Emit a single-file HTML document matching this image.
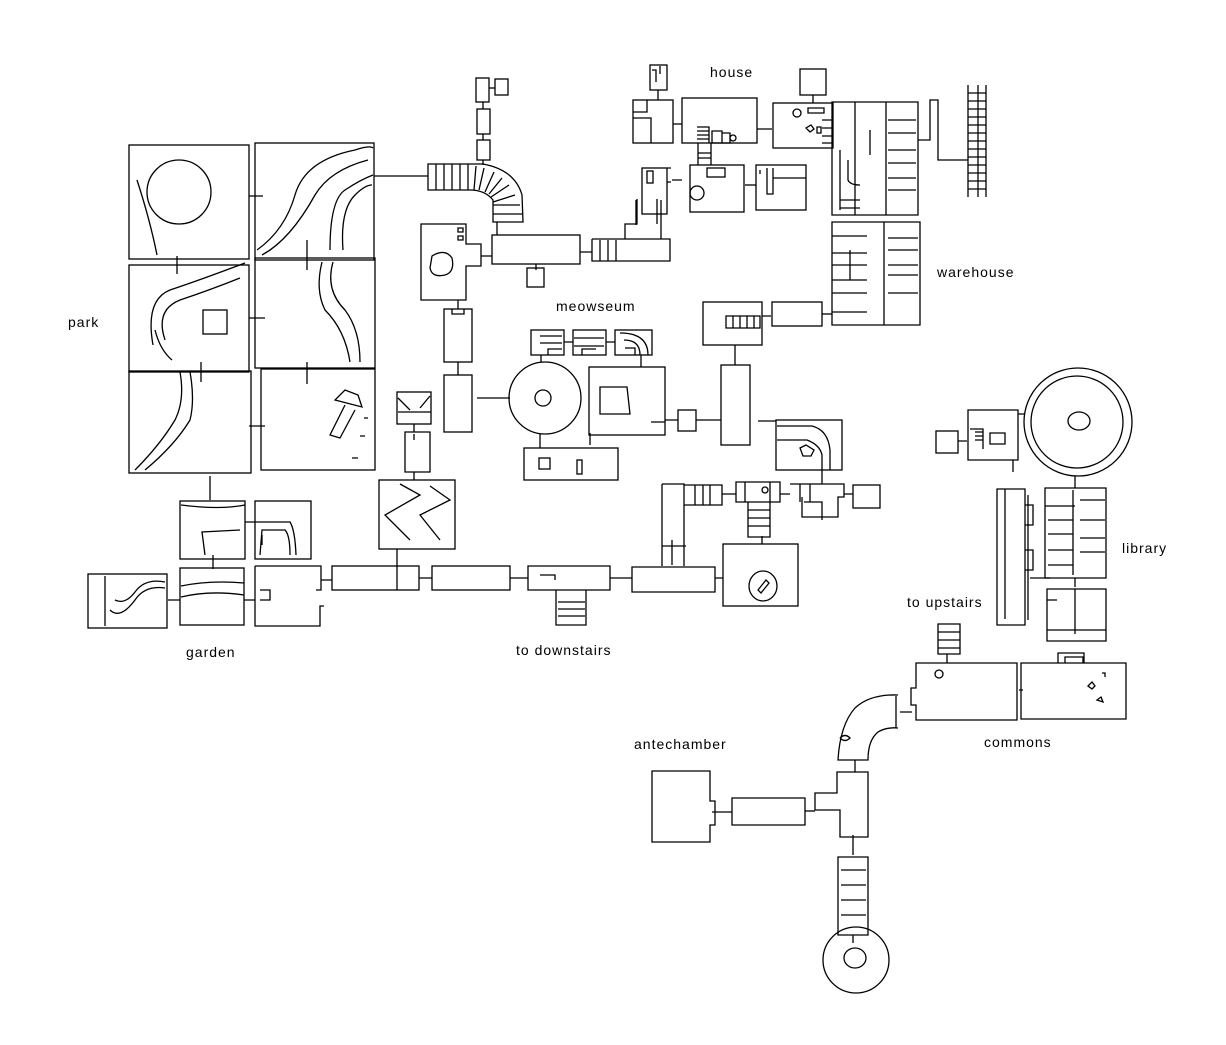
<!DOCTYPE html>
<html><head><meta charset="utf-8"><style>
html,body{margin:0;padding:0;background:#fff;}
svg{display:block}
text{font-family:"Liberation Sans",sans-serif;font-size:14px;fill:#000;letter-spacing:1px}
</style></head><body>
<svg width="1226" height="1045" viewBox="0 0 1226 1045" xmlns="http://www.w3.org/2000/svg">
<g fill="none" stroke="#000" stroke-width="1.3">
<!-- park -->
<rect x="129" y="145" width="120" height="114"/>
<rect x="255" y="143" width="119" height="117"/>
<rect x="129" y="265" width="120" height="107"/>
<rect x="255" y="258" width="120" height="110"/>
<rect x="129" y="371" width="122" height="102"/>
<rect x="261" y="369" width="114" height="101"/>
<circle cx="179" cy="192" r="32"/>
<path d="M137 180 Q150 220 157 255 M153 345 Q145 300 170 290 Q200 280 245 263 M165 340 Q155 310 180 300 Q210 290 240 278 M172 360 Q160 350 155 330"/>
<rect x="203" y="310" width="24" height="24"/>
<path d="M257 250 Q285 230 295 195 Q305 160 355 150 Q370 145 373 148 M262 255 Q290 240 315 195 Q330 170 368 160 M330 250 Q330 200 345 190 Q360 180 373 175 M343 250 Q340 210 355 195 Q365 185 372 185"/>
<path d="M322 262 Q315 290 325 310 Q345 330 350 362 M333 262 Q325 290 345 310 Q360 330 360 362"/>
<path d="M180 372 Q185 400 175 420 Q160 445 135 470 M190 372 Q195 400 190 420 Q175 445 145 470"/>
<path d="M335 400 L362 407 L358 395 L345 390 Z M345 405 L330 435 L340 438 L355 410"/>
<path d="M364 418 l4 0 M360 436 l5 0 M352 458 l6 0"/>
<path d="M249 196 h14 M177 256 v18 M249 318 h16 M307 240 v30 M201 362 v20 M249 426 h16 M307 362 v22 M210 476 v24"/>
<!-- garden -->
<rect x="180" y="501" width="65" height="58"/>
<rect x="255" y="501" width="56" height="58"/>
<path d="M181 505 Q220 510 245 505 M205 555 L202 532 L240 530 M245 522 L290 522 Q295 530 296 555 M260 555 L262 530 L285 530 Q290 535 290 555"/>
<rect x="88" y="574" width="79" height="54"/>
<path d="M105 576 v50 M110 610 Q120 620 135 600 Q145 585 165 588 M115 600 Q125 605 135 592 Q145 578 165 582"/>
<rect x="180" y="568" width="64" height="57"/>
<path d="M181 586 Q210 580 244 583 M181 597 Q210 590 244 595"/>
<path d="M255 566 h66 v24 h-5 M255 566 v60 h65 v-20 h4 M260 590 h10 v10 h-10"/>
<path d="M168 600 h12 M244 600 h11 M213 555 v14 M321 580 h11 M262 535 v10"/>
<!-- corridor to downstairs -->
<rect x="332" y="566" width="87" height="24"/>
<path d="M397 566 v24"/>
<rect x="432" y="566" width="78" height="24"/>
<path d="M419 578 h13 M510 578 h18"/>
<path d="M528 566 h82 v24 h-82 Z M540 575 h15 v5 M556 590 v35 h30 v-35 M558 602 h27 M558 609 h27 M558 616 h27"/>
<path d="M610 578 h22"/>
<!-- zigzag room & small -->
<rect x="379" y="480" width="76" height="69"/>
<path d="M400 484 L420 495 L385 515 L410 540 M430 486 L450 500 L420 515 L440 540"/>
<path d="M397 549 v18 M414 472 v8"/>
<rect x="397" y="392" width="34" height="32"/>
<path d="M398 398 L410 410 M430 396 L420 408 M398 412 h33"/>
<path d="M405 432 h25 v40 h-25 Z M414 424 v8 M414 434 v6"/>
<!-- tower & stairs -->
<rect x="476" y="78" width="13" height="24"/>
<rect x="495" y="79" width="13" height="16"/>
<path d="M489 88 h6"/>
<rect x="477" y="109" width="13" height="25"/>
<rect x="477" y="140" width="13" height="20"/>
<path d="M483 102 v7 M483 134 v6 M483 160 v5"/>
<path d="M428 164 h55 Q515 170 522 195 L523 222 h-30 L493 200 Q485 190 470 190 h-42 Z"/>
<path d="M436 164 v26 M444 164 v26 M452 164 v26 M460 164 v26 M468 164 v26 M476 166 l-2 24 M484 168 l-5 22 M494 172 l-9 20 M502 178 l-13 16 M509 185 l-18 12 M515 195 l-22 7 M520 205 l-27 0 M522 214 l-29 0"/>
<path d="M374 176 h54"/>
<path d="M421 224 h45 v20 h15 v22 h-15 v34 h-45 Z M458 228 h5 v4 h-5 Z M458 236 h5 v4 h-5 Z M432 256 Q445 248 452 258 Q455 272 445 275 Q432 278 430 268 Z"/>
<path d="M481 256 h11 M497 222 v13"/>
<rect x="492" y="235" width="88" height="29"/>
<rect x="527" y="268" width="17" height="19"/>
<path d="M536 264 v6 M580 252 h12"/>
<path d="M592 239 h33 v-15 h12 v-25 M592 239 v22 h78 v-22 h-45 M600 240 v21 M608 240 v21 M616 240 v21 M657 199 v25"/>
<path d="M636 200 v25 M661 200 v39"/>
<!-- house -->
<rect x="642" y="168" width="25" height="46"/>
<path d="M667 168 h4 M667 182 h4"/>
<rect x="647" y="171" width="6" height="12"/>
<rect x="650" y="65" width="17" height="25"/>
<path d="M652 70 h4 v12 M660 66 v8"/>
<path d="M658 90 v10"/>
<rect x="633" y="100" width="40" height="43"/>
<path d="M633 112 h14 v-12 M633 118 h18 v25"/>
<rect x="682" y="98" width="75" height="45"/>
<path d="M673 124 h9 M697 131 h12 M697 135 h12 M697 139 h12 M697 127 h12 v16 M712 131 h10 v12 h-10 Z M722 133 h8 v10 h-8 Z"/>
<circle cx="733" cy="138" r="3"/>
<path d="M698 143 v10 M698 153 h13 M698 158 h13 M698 153 v12 M711 143 v22"/>
<rect x="690" y="165" width="54" height="47"/>
<rect x="707" y="168" width="18" height="9"/>
<circle cx="697" cy="193" r="7"/>
<path d="M745 185 h11"/>
<rect x="756" y="165" width="50" height="45"/>
<path d="M760 170 v4 M767 168 v26 h6 v-16 h33 M773 168 v10"/>
<path d="M672 180 h10 M757 129 h15"/>
<rect x="800" y="69" width="26" height="26"/>
<path d="M813 95 v8"/>
<rect x="773" y="103" width="60" height="45"/>
<circle cx="797" cy="113" r="4"/>
<path d="M808 108 h16 v5 h-16 Z M822 120 h10 M822 128 h10 M822 136 h10 M822 143 h10 M806 128 l5 -3 l3 4 l-4 3 Z M817 127 h4 v6 h-4 Z"/>
<!-- warehouse -->
<path d="M832 102 h86 v113 h-86 Z M855 102 v113 M886 102 v113 M870 130 v25 M840 150 v60 M848 160 v20 Q850 185 860 185 M888 120 h28 M888 133 h28 M888 150 h28 M888 163 h28 M888 178 h28 M888 190 h28 M840 200 h20 M840 208 h20"/>
<path d="M832 222 h88 v103 h-88 Z M884 222 v103 M832 236 h35 M832 253 h35 M832 265 h35 M832 280 h35 M832 293 h35 M832 312 h35 M850 250 v30 M888 238 h30 M888 250 h30 M888 265 h30 M888 275 h30 M888 293 h30"/>
<path d="M918 140 h12 v-40 h8 v60 h30 M968 85 v112 M986 85 v112 M968 93 h18 M968 101 h18 M968 109 h18 M968 117 h18 M968 125 h18 M968 133 h18 M968 141 h18 M968 149 h18 M968 157 h18 M968 165 h18 M968 173 h18 M968 181 h18 M968 189 h18 M978 85 v112"/>
<!-- meowseum -->
<rect x="531" y="330" width="33" height="25"/>
<rect x="573" y="330" width="33" height="25"/>
<rect x="615" y="330" width="37" height="25"/>
<path d="M540 336 h22 M540 343 h22 M548 355 v-6 h14 M574 338 h30 M574 346 h30 M582 355 v-6 h14 M620 333 Q648 333 648 355 M624 340 Q640 340 640 355 M625 348 h10 v7 M564 342 h9 M606 342 h9"/>
<circle cx="545" cy="398" r="36"/>
<circle cx="543" cy="398" r="8"/>
<path d="M541 355 v7 M540 434 v14 M477 398 h33"/>
<rect x="589" y="367" width="76" height="68"/>
<path d="M600 387 h27 l3 27 h-30 Z M641 355 v12 M590 433 v12 M651 422 h14"/>
<rect x="524" y="448" width="94" height="32"/>
<rect x="539" y="458" width="11" height="11"/>
<rect x="577" y="460" width="5" height="14"/>
<rect x="678" y="410" width="18" height="21"/>
<path d="M665 420 h13 M696 420 h25"/>
<rect x="721" y="365" width="29" height="80"/>
<path d="M735 345 v20"/>
<rect x="703" y="302" width="59" height="43"/>
<path d="M726 316 h34 v12 h-34 Z M733 316 v12 M740 316 v12 M747 316 v12 M754 316 v12 M762 316 h9"/>
<rect x="772" y="302" width="50" height="24"/>
<path d="M822 314 h10"/>
<rect x="444" y="309" width="28" height="53"/>
<path d="M452 309 v5 h12 v-5 M458 300 v9 M458 362 v13"/>
<rect x="444" y="375" width="28" height="57"/>
<rect x="776" y="420" width="66" height="50"/>
<path d="M777 426 h35 Q828 430 830 450 V470 M777 440 h30 Q820 445 822 455 V470 M800 448 l6 -3 l8 5 l-3 6 l-8 0 Z M758 421 h18"/>
<!-- corridor row right -->
<path d="M662 484 h22 v82 M662 484 v82 M684 485 h38 v20 h-38 M695 485 v20 M703 485 v20 M710 485 v20"/>
<path d="M736 482 h44 v20 h-44 Z M745 482 v20 M770 482 v20"/>
<circle cx="765" cy="490" r="3"/>
<path d="M748 502 v35 h22 v-35 M748 510 h22 M748 518 h22 M748 526 h22 M722 494 h14 M780 494 h10"/>
<path d="M790 484 h54 v13 h-6 v20 h-36 v-20 M800 484 v18 M810 484 v18 M804 502 h18 v18 M844 494 h9"/>
<rect x="853" y="485" width="27" height="23"/>
<path d="M822 470 v14"/>
<path d="M632 567 h83 v25 h-83 Z M662 546 h24 M672 540 v25"/>
<rect x="723" y="544" width="75" height="62"/>
<ellipse cx="763" cy="586" rx="14" ry="15"/>
<path d="M758 590 l8 -10 l3 3 l-8 10 Z M715 578 h8 M762 536 v8"/>
<!-- library -->
<circle cx="1078" cy="422" r="54"/>
<circle cx="1077" cy="422" r="46"/>
<ellipse cx="1079" cy="421" rx="11" ry="9"/>
<rect x="936" y="431" width="22" height="22"/>
<path d="M958 441 h9 M968 410 h50 v50 h-50 Z M970 429 h13 v20 M990 433 h15 v11 h-15 Z M975 432 h8 M975 436 h8 M975 440 h8 M1018 414 h7"/>
<path d="M1013 460 v12"/>
<path d="M997 489 h28 v136 h-28 Z M1005 489 v130 M1025 505 h8 v20 h-8 M1025 550 h8 v20 h-8 M1028 495 v125"/>
<path d="M1045 488 h61 v90 h-61 Z M1045 506 h30 M1048 520 h25 M1048 534 h25 M1048 550 h25 M1048 565 h25 M1080 500 h25 M1080 520 h25 M1080 538 h25 M1080 552 h25 M1073 490 v85"/>
<path d="M1047 589 h59 v52 h-59 Z M1075 589 v45 M1047 630 h59 M1047 600 h10 M1030 578 h20 M1075 578 v9 M1075 476 v12"/>
<!-- commons -->
<path d="M916 663 h101 v57 h-101 v-15 h-5 v-17 h5 Z"/>
<circle cx="939" cy="674" r="4"/>
<path d="M938 624 h22 v30 h-22 Z M938 632 h22 M938 640 h22 M938 648 h22 M947 654 v9"/>
<path d="M1021 663 h105 v56 h-105 Z M1058 663 v-10 h26 v10 M1065 657 h18 v6 h-18 Z M1019 690 h4"/>
<path d="M1088 686 l4 -4 l3 4 l-3 3 Z M1097 700 l4 -3 l2 5 Z M1102 673 h3 v4"/>
<path d="M898 695 Q870 694 855 708 Q840 725 838 760 h30 Q868 740 878 732 Q886 727 898 728 M896 696 v32 M900 712 h12"/>
<path d="M840 738 q5 -5 10 0 q-5 5 -10 0"/>
<path d="M855 760 v12"/>
<path d="M837 772 h31 v65 h-28 v-27 h-25 v-17 h22 Z"/>
<path d="M805 811 h10"/>
<path d="M732 798 h73 v27 h-73 Z M712 812 h20"/>
<path d="M652 771 h58 v30 h5 v24 h-5 v17 h-58 Z"/>
<path d="M838 857 h30 v78 h-30 Z M841 870 h25 M841 885 h25 M841 900 h25 M841 915 h25 M853 835 v20 M853 935 v8"/>
<circle cx="856" cy="960" r="33"/>
<ellipse cx="855" cy="958" rx="11" ry="10"/>
</g>
<g>
<text x="68" y="327">park</text>
<text x="710" y="77">house</text>
<text x="556" y="311">meowseum</text>
<text x="937" y="277">warehouse</text>
<text x="1122" y="553">library</text>
<text x="186" y="657">garden</text>
<text x="516" y="655">to downstairs</text>
<text x="907" y="607">to upstairs</text>
<text x="634" y="749">antechamber</text>
<text x="984" y="747">commons</text>
</g>
</svg>
</body></html>
